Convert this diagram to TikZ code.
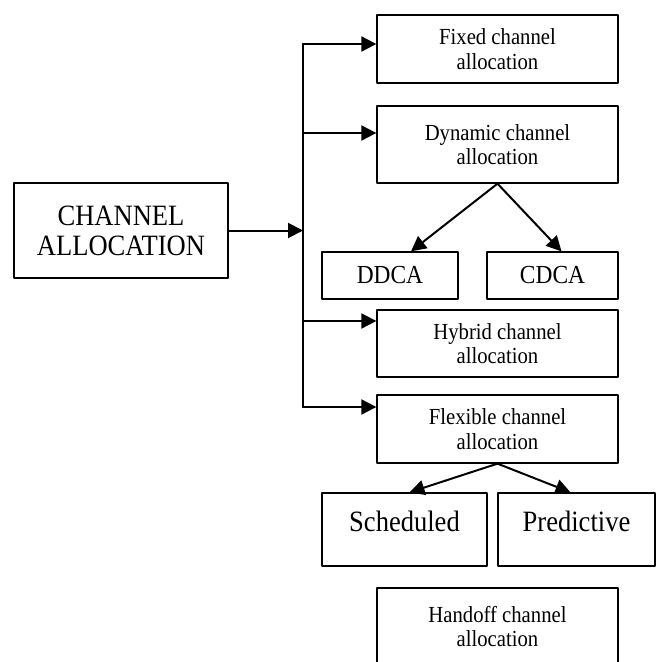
\documentclass[tikz,border=0pt]{standalone}
\usepackage{fontspec}
\setmainfont{Liberation Serif}[FakeStretch=0.9]
\usetikzlibrary{arrows.meta}
\tikzset{
  box/.style={draw, line width=1.3pt, inner sep=0pt, align=center},
  smallbox/.style={box, minimum width=241pt, font=\fontsize{23}{24.5}\selectfont},
  bigtext/.style={font=\fontsize{29.5}{30}\selectfont},
  arr/.style={line width=2pt, -{Triangle[length=15pt,width=15pt]}}
}
\begin{document}
\begin{tikzpicture}[x=1pt, y=-1pt, line cap=round, line join=round]
    \useasboundingbox (0,0) rectangle (656,662);
    \clip (0,0) rectangle (656,662);
    % main box
    \node[box, bigtext, minimum width=214pt, minimum height=95pt] (main) at (121,230.5) {CHANNEL\\ALLOCATION};
    % right column
    \node[smallbox, minimum height=68pt] (fixed) at (497.5,49) {Fixed channel\\allocation};
    \node[smallbox, minimum height=77pt] (dyn) at (497.5,144.5) {Dynamic channel\\allocation};
    \node[box, minimum width=136pt, minimum height=47pt, font=\fontsize{26}{28}\selectfont] (ddca) at (390,275.5) {DDCA};
    \node[box, minimum width=131pt, minimum height=47pt, font=\fontsize{26}{28}\selectfont] (cdca) at (552.5,275.5) {CDCA};
    \node[smallbox, minimum height=67pt] (hyb) at (497.5,343.5) {Hybrid channel\\allocation};
    \node[smallbox, minimum height=68pt] (flex) at (497.5,429) {Flexible channel\\allocation};
    \node[box, bigtext, minimum width=165pt, text height=38pt, text depth=35pt] (sched) at (404.5,529.5) {Scheduled};
    \node[box, bigtext, minimum width=157pt, text height=38pt, text depth=35pt] (pred) at (576.5,529.5) {Predictive};
    \node[smallbox, minimum height=77pt] (hand) at (497.5,626.5) {Handoff channel\\allocation};
    % trunk and branches
    \coordinate (b1) at (303,44);
    \coordinate (b2) at (303,133);
    \coordinate (b3) at (303,321);
    \coordinate (b4) at (303,407);
    \draw[line width=2pt] (b1) -- (b4);
    \draw[arr] (main.east) -- (main.east -| b1);
    \draw[arr] (b1) -- (b1 -| fixed.west);
    \draw[arr] (b2) -- (b2 -| dyn.west);
    \draw[arr] (b3) -- (b3 -| hyb.west);
    \draw[arr] (b4) -- (b4 -| flex.west);
    % sub branches
    \draw[arr] (dyn.south) -- ([xshift=21pt]ddca.north);
    \draw[arr] (dyn.south) -- ([xshift=9pt]cdca.north);
    \draw[arr] (flex.south) -- ([xshift=5pt]sched.north);
    \draw[arr] (flex.south) -- ([xshift=-6pt]pred.north);
\end{tikzpicture}
\end{document}
